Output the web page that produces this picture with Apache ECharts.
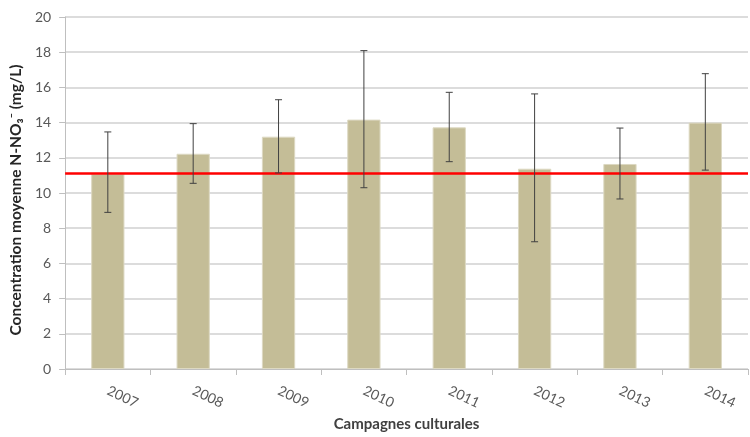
<!DOCTYPE html>
<html><head><meta charset="utf-8">
<script src="https://cdn.jsdelivr.net/npm/echarts@6/dist/echarts.min.js"></script>
<style>html,body{margin:0;padding:0;background:#fff}#c{width:750px;height:437px}</style>
</head><body><div id="c"></div>
<script>
var categories = ['2007','2008','2009','2010','2011','2012','2013','2014'];
var means = [11.1, 12.23, 13.2, 14.17, 13.73, 11.38, 11.65, 14.0];
var errLow = [8.9, 10.55, 11.14, 10.3, 11.78, 7.23, 9.66, 11.3];
var errHigh = [13.47, 13.94, 15.3, 18.09, 15.72, 15.63, 13.69, 16.78];
var threshold = 11.1;
var yTicks = {min: 0, max: 20, interval: 2};

var chart = echarts.init(document.getElementById('c'), null, {renderer: 'canvas'});
var font = 'Lato, "Open Sans", "Liberation Sans", sans-serif';
var errData = categories.map(function (c, i) { return [i, errLow[i], errHigh[i]]; });

chart.setOption({
  animation: false,
  grid: {left: 63, right: 2, top: 17, bottom: 68},
  xAxis: {
    type: 'category', data: categories,
    axisLine: {lineStyle: {color: '#BFBFBF', width: 1}},
    axisTick: {show: true, alignWithLabel: false, length: 6, lineStyle: {color: '#BFBFBF'}},
    axisLabel: {rotate: -25, margin: 21, fontSize: 14, color: '#595959', fontFamily: font},
    name: 'Campagnes culturales', nameLocation: 'middle', nameGap: 48,
    nameTextStyle: {fontSize: 15, fontWeight: 'bold', color: '#404040', fontFamily: font}
  },
  yAxis: {
    type: 'value', min: yTicks.min, max: yTicks.max, interval: yTicks.interval,
    axisLine: {show: true, lineStyle: {color: '#BFBFBF', width: 1}},
    axisTick: {show: true, length: 6, lineStyle: {color: '#BFBFBF'}},
    axisLabel: {margin: 14, fontSize: 14, color: '#595959', fontFamily: font},
    splitLine: {lineStyle: {color: '#D0D0D0', width: 1.5}},
    name: 'Concentration moyenne N-NO\u2083\u207B (mg/L)', nameLocation: 'middle', nameGap: 35, nameRotate: 90,
    nameTextStyle: {fontSize: 15.5, fontWeight: 'bold', color: '#262626', fontFamily: font, padding: [0, 14, 0, 0]}
  },
  series: [{
    type: 'bar', data: means, barWidth: '39%',
    itemStyle: {color: '#C4BD97', borderColor: '#DDD9C3', borderWidth: 1},
    markLine: {
      silent: true, symbol: 'none', label: {show: false},
      lineStyle: {color: '#FF0000', width: 2.5, type: 'solid'},
      data: [{yAxis: threshold}]
    },
    z: 2
  }, {
    type: 'custom', data: errData, z: 5,
    renderItem: function (params, api) {
      var x = api.value(0);
      var lo = api.coord([x, api.value(1)]);
      var hi = api.coord([x, api.value(2)]);
      var w = 3.5;
      var st = {stroke: '#404040', lineWidth: 1};
      return {type: 'group', children: [
        {type: 'line', shape: {x1: lo[0], y1: lo[1], x2: hi[0], y2: hi[1]}, style: st},
        {type: 'line', shape: {x1: lo[0]-w, y1: lo[1], x2: lo[0]+w, y2: lo[1]}, style: st},
        {type: 'line', shape: {x1: hi[0]-w, y1: hi[1], x2: hi[0]+w, y2: hi[1]}, style: st}
      ]};
    }
  }]
});
</script></body></html>
